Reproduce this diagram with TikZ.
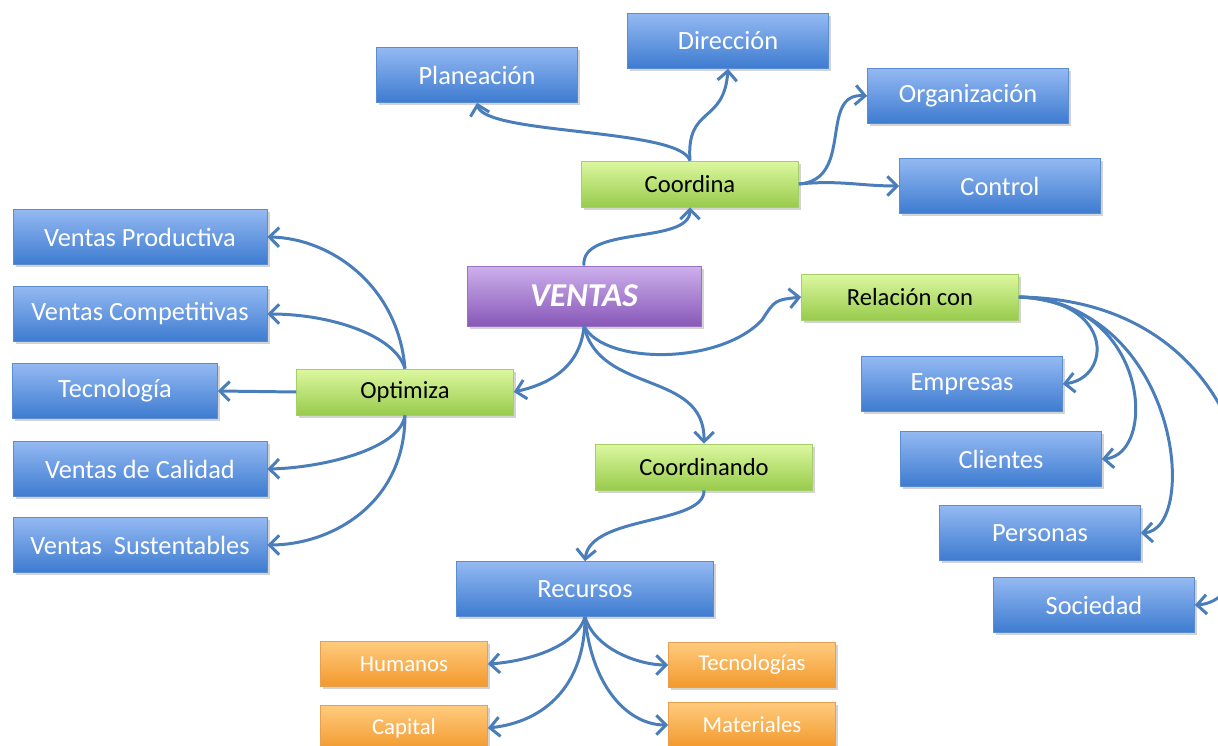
\documentclass[tikz,border=0pt]{standalone}
\usepackage{fontspec}
\setmainfont{Carlito}
\usetikzlibrary{arrows.meta,shadows}

\definecolor{lnblue}{HTML}{4A7EBB}
\definecolor{bltop}{HTML}{94B9F2}
\definecolor{blbot}{HTML}{3D7BD0}
\definecolor{blline}{HTML}{5A8CD2}
\definecolor{grtop}{HTML}{DCF8A0}
\definecolor{grbot}{HTML}{98CB4C}
\definecolor{grline}{HTML}{A6CF6A}
\definecolor{putop}{HTML}{CDB0EC}
\definecolor{pubot}{HTML}{8858B8}
\definecolor{puline}{HTML}{9A72C4}
\definecolor{ortop}{HTML}{FFCB7E}
\definecolor{orbot}{HTML}{F2992C}
\definecolor{orline}{HTML}{E8A050}

\begin{document}
\begin{tikzpicture}[x=0.02cm, y=-0.02cm]
	\tikzset{
		bx/.style={rectangle, draw=blline, top color=bltop, bottom color=blbot, text=white, minimum width=4.02cm, minimum height=1.1cm, font=\fontsize{15}{17}\selectfont, drop shadow={opacity=0.35, shadow xshift=1.5pt, shadow yshift=-1.5pt}},
		bxw/.style={bx, minimum width=5.08cm},
		gr/.style={bx, draw=grline, top color=grtop, bottom color=grbot, text=black, minimum width=4.34cm, minimum height=0.92cm, font=\fontsize{14}{16}\selectfont},
		pu/.style={bx, draw=puline, top color=putop, bottom color=pubot, minimum width=4.68cm, minimum height=1.2cm, font=\fontsize{19}{21}\selectfont\bfseries\itshape},
		org/.style={bx, draw=orline, top color=ortop, bottom color=orbot, minimum width=3.34cm, minimum height=0.9cm, font=\fontsize{13}{15}\selectfont},
		ln/.style={draw=lnblue, line width=1.7pt, -{Straight Barb[length=5.5pt, width=11pt, line width=1.7pt]}}
	}
	\useasboundingbox (0,0) rectangle (1218,746);

	\node[pu] (ven) at (584,296) {VENTAS};

	\node[gr] (cor) at (690,184) {Coordina};
	\node[bx] (pla) at (477,75) {Planeación};
	\node[bx] (dir) at (728,41) {Dirección};
	\node[bx] (org) at (968,96) {Organización};
	\node[bx] (con) at (1000,186) {Control};

	\node[gr] (opt) at (405,392) {Optimiza};
	\node[bxw] (vpr) at (140,237) {Ventas Productiva};
	\node[bxw] (vco) at (140,314) {Ventas Competitivas};
	\node[bx, minimum width=4.1cm] (tec) at (115,391) {Tecnología};
	\node[bxw] (vca) at (140,469) {Ventas de Calidad};
	\node[bxw] (vsu) at (140,545) {Ventas\ \ Sustentables};

	\node[gr] (rel) at (910,297) {Relación con};
	\node[bx] (emp) at (962,384) {Empresas};
	\node[bx] (cli) at (1001,459) {Clientes};
	\node[bx] (per) at (1040,533) {Personas};
	\node[bx] (soc) at (1094,605) {Sociedad};

	\node[gr] (crd) at (704,467) {Coordinando};
	\node[bx, minimum width=5.14cm] (rec) at (585,589) {Recursos};
	\node[org] (hum) at (404,664) {Humanos};
	\node[org] (cap) at (404,728) {Capital};
	\node[org] (tcs) at (752,665) {Tecnologías};
	\node[org] (mat) at (752,725) {Materiales};

	\draw[ln] (ven.north) .. controls (580,225) and (690,245) .. (cor.south);
	\draw[ln] (cor.north) .. controls (680,128) and (485,135) .. (pla.south);
	\draw[ln] (cor.north) .. controls (686,105) and (724,125) .. (dir.south);
	\draw[ln] (cor.east) .. controls (855,180) and (818,92) .. (org.west);
	\draw[ln] (cor.east) .. controls (840,180) and (860,186) .. (con.west);

	\draw[ln] (ven.south) .. controls (580,370) and (545,385) .. (opt.east);
	\draw[ln] (ven.south) .. controls (600,395) and (705,370) .. (crd.north);
	\draw[ln] (ven.south) .. controls (605,365) and (720,365) .. (762,320) .. controls (775,300) .. (rel.west);

	\draw[ln] (opt.north) .. controls (398,285) and (330,238) .. (vpr.east);
	\draw[ln] (opt.north) .. controls (395,335) and (330,314) .. (vco.east);
	\draw[ln] (opt.west) -- (tec.east);
	\draw[ln] (opt.south) .. controls (400,450) and (320,468) .. (vca.east);
	\draw[ln] (opt.south) .. controls (405,505) and (330,545) .. (vsu.east);

	\draw[ln] (rel.east) .. controls (1115,300) and (1112,378) .. (emp.east);
	\draw[ln] (rel.east) .. controls (1150,300) and (1158,455) .. (cli.east);
	\draw[ln] (rel.east) .. controls (1180,305) and (1200,530) .. (per.east);
	\draw[ln] (rel.east) .. controls (1280,300) and (1285,600) .. (soc.east);

	\draw[ln] (crd.south) .. controls (705,525) and (590,515) .. (rec.north);
	\draw[ln] (rec.south) .. controls (575,650) and (520,662) .. (hum.east);
	\draw[ln] (rec.south) .. controls (585,685) and (545,722) .. (cap.east);
	\draw[ln] (rec.south) .. controls (595,650) and (640,665) .. (tcs.west);
	\draw[ln] (rec.south) .. controls (592,690) and (630,725) .. (mat.west);

\end{tikzpicture}
\end{document}
